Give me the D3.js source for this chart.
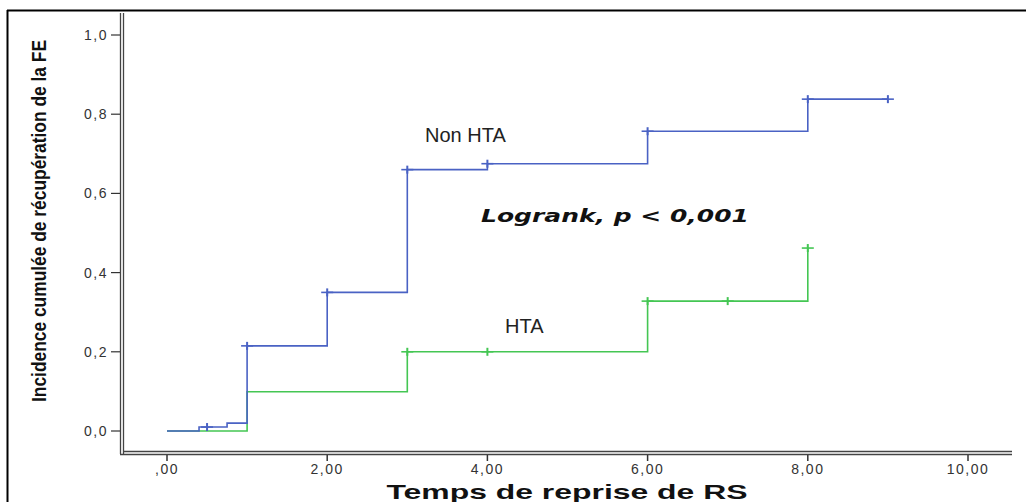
<!DOCTYPE html>
<html>
<head>
<meta charset="utf-8">
<script src="https://cdn.jsdelivr.net/npm/d3@7"></script>
<style>
  body { margin: 0; background: #fff; }
  svg { display: block; }
</style>
</head>
<body>
<div class="chart"></div>
<script>
// data
var xTicks = [0, 2, 4, 6, 8, 10];
var xTickLabels = [",00", "2,00", "4,00", "6,00", "8,00", "10,00"];
var yTicks = [0, 0.2, 0.4, 0.6, 0.8, 1.0];
var yTickLabels = ["0,0", "0,2", "0,4", "0,6", "0,8", "1,0"];

// Non HTA (blue)
var nonTimes = [0, 0.4, 0.75, 1, 2, 3, 4, 6, 8, 9];
var nonValues = [0, 0.01, 0.02, 0.215, 0.35, 0.66, 0.675, 0.757, 0.838, 0.838];
var nonCensored = [0.5, 1, 2, 3, 4, 6, 8, 9];

// HTA (green)
var htaTimes = [0, 1, 3, 6, 8];
var htaValues = [0, 0.099, 0.2, 0.328, 0.462];
var htaCensored = [3, 4, 6, 7, 8];

var width = 1026, height = 502;

var svg = d3.select(".chart").append("svg")
  .attr("width", width)
  .attr("height", height);

//outer frame (top + left only visible)
svg.append("line").attr("x1", 7).attr("x2", width).attr("y1", 10.5).attr("y2", 10.5)
  .attr("stroke", "#000").attr("stroke-width", 2);
svg.append("line").attr("x1", 7.5).attr("x2", 7.5).attr("y1", 10).attr("y2", height)
  .attr("stroke", "#000").attr("stroke-width", 2);

var x = d3.scaleLinear().domain([0, 10]).range([167, 968]);
var y = d3.scaleLinear().domain([0, 1]).range([431, 35]);

//axes drawn as double lines like SPSS
var axisCol = "#444";
[120.5, 123.5].forEach(function(px) {
  svg.append("line").attr("x1", px).attr("x2", px).attr("y1", 13).attr("y2", 454)
    .attr("stroke", axisCol).attr("stroke-width", 1.3);
});
[451.5, 454.5].forEach(function(py, i) {
  svg.append("line").attr("x1", i == 0 ? 123 : 120).attr("x2", 1012).attr("y1", py).attr("y2", py)
    .attr("stroke", axisCol).attr("stroke-width", 1.3);
});

//y ticks
var yAxis = svg.append("g");
yAxis.selectAll("line").data(yTicks).enter().append("line")
  .attr("x1", 111).attr("x2", 120)
  .attr("y1", function(d) { return y(d); })
  .attr("y2", function(d) { return y(d); })
  .attr("stroke", "#333").attr("stroke-width", 1.2);
yAxis.selectAll("text").data(yTicks).enter().append("text")
  .attr("x", 108)
  .attr("y", function(d) { return y(d) + 5; })
  .attr("text-anchor", "end")
  .style("font-family", "Liberation Sans, Arial, sans-serif")
  .style("font-size", "14px")
  .style("letter-spacing", "1.5px")
  .attr("fill", "#333")
  .text(function(d, i) { return yTickLabels[i]; });

//x ticks
var xAxis = svg.append("g");
xAxis.selectAll("line").data(xTicks).enter().append("line")
  .attr("x1", function(d) { return x(d); })
  .attr("x2", function(d) { return x(d); })
  .attr("y1", 455).attr("y2", 461)
  .attr("stroke", "#333").attr("stroke-width", 1.5);
xAxis.selectAll("text").data(xTicks).enter().append("text")
  .attr("x", function(d) { return x(d); })
  .attr("y", 474)
  .attr("text-anchor", "middle")
  .style("font-family", "Liberation Sans, Arial, sans-serif")
  .style("font-size", "14px")
  .style("letter-spacing", "1.5px")
  .attr("fill", "#333")
  .text(function(d, i) { return xTickLabels[i]; });

//step curves
var line = d3.line()
  .x(function(d) { return x(d[0]); })
  .y(function(d) { return y(d[1]); })
  .curve(d3.curveStepAfter);

function stepValue(times, values, t) {
  var v = values[0];
  for (var i = 0; i < times.length; i++) {
    if (times[i] <= t) v = values[i];
  }
  return v;
}

var series = [
  { times: nonTimes, values: nonValues, censored: nonCensored, color: "#4a62c4" },
  { times: htaTimes, values: htaValues, censored: htaCensored, color: "#44c653" }
];

// draw green first so blue sits on top at the start
series.slice().reverse().forEach(function(s) {
  var pts = s.times.map(function(t, i) { return [t, s.values[i]]; });
  svg.append("path")
    .attr("d", line(pts))
    .attr("fill", "none")
    .attr("stroke", s.color)
    .attr("stroke-width", 1.6);

  var g = svg.append("g");
  s.censored.forEach(function(t) {
    var cx = x(t), cy = y(stepValue(s.times, s.values, t));
    g.append("line").attr("x1", cx).attr("x2", cx).attr("y1", cy - 4).attr("y2", cy + 4)
      .attr("stroke", s.color).attr("stroke-width", 2);
    g.append("line").attr("x1", cx - 6).attr("x2", cx + 6).attr("y1", cy).attr("y2", cy)
      .attr("stroke", s.color).attr("stroke-width", 1.6);
  });
});

//annotations
svg.append("text")
  .attr("x", 425).attr("y", 142)
  .style("font-family", "Liberation Sans, Arial, sans-serif")
  .style("font-size", "20px")
  .attr("fill", "#222")
  .text("Non HTA");

svg.append("text")
  .attr("x", 505).attr("y", 333)
  .style("font-family", "Liberation Sans, Arial, sans-serif")
  .style("font-size", "20px")
  .attr("fill", "#222")
  .text("HTA");

svg.append("text")
  .attr("x", 481).attr("y", 222)
  .attr("textLength", 268)
  .attr("lengthAdjust", "spacingAndGlyphs")
  .style("font-family", "DejaVu Sans, sans-serif")
  .style("font-size", "17px")
  .style("font-weight", "bold")
  .style("font-style", "italic")
  .attr("fill", "#111")
  .text("Logrank, p < 0,001");

//axis titles
svg.append("text")
  .attr("transform", "translate(46,221) rotate(-90)")
  .attr("text-anchor", "middle")
  .attr("textLength", 362)
  .attr("lengthAdjust", "spacingAndGlyphs")
  .style("font-family", "Liberation Sans Narrow, Liberation Sans, Arial, sans-serif")
  .style("font-size", "20px")
  .style("font-weight", "bold")
  .attr("fill", "#111")
  .text("Incidence cumulée de récupération de la FE");

svg.append("text")
  .attr("x", 567).attr("y", 499)
  .attr("text-anchor", "middle")
  .attr("textLength", 361)
  .attr("lengthAdjust", "spacingAndGlyphs")
  .style("font-family", "Liberation Sans, Arial, sans-serif")
  .style("font-size", "21px")
  .style("font-weight", "bold")
  .attr("fill", "#111")
  .text("Temps de reprise de RS");
</script>
</body>
</html>
